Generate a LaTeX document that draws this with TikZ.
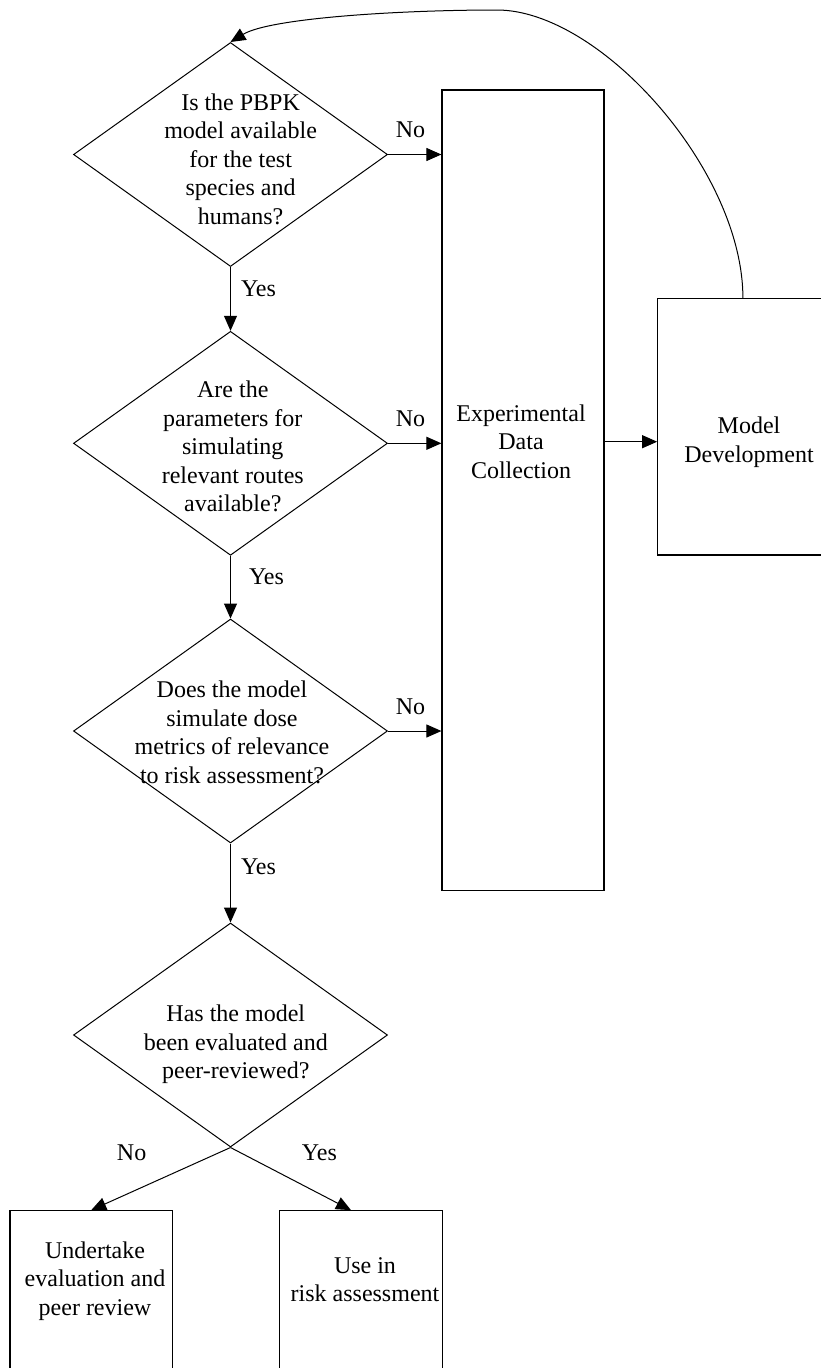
\documentclass[tikz,border=0pt]{standalone}
\usepackage{fontspec}
\setmainfont{Liberation Serif}
\usetikzlibrary{arrows.meta, shapes.geometric}

\begin{document}
\begin{tikzpicture}[x=1pt, y=-1pt, >={Triangle[length=15pt, width=13pt]},
  decision/.style={draw, diamond, line width=1pt, minimum width=314pt, minimum height=224pt, inner sep=0pt},
  block/.style={draw, rectangle, line width=1.2pt, inner sep=0pt},
  txt/.style={align=center, inner sep=0pt, font=\fontsize{24}{28.5}\selectfont},
  lbl/.style={inner sep=0pt, font=\fontsize{24}{28.5}\selectfont},
  line/.style={->, line width=1pt}]
  \useasboundingbox (0,0) rectangle (820,1368);
  % Decisions
  \node[decision] (d1) at (230.5,154.5) {};
  \node[decision] (d2) at (230.5,443.3) {};
  \node[decision] (d3) at (230.5,731) {};
  \node[decision] (d4) at (230.5,1035) {};
  \node[txt] (d1txt) at (240.6,159) {Is the PBPK\\model available\\for the test\\species and\\humans?};
  \node[txt] (d2txt) at (232.8,446.8) {Are the\\parameters for\\simulating\\relevant routes\\available?};
  \node[txt] (d3txt) at (232,732.3) {Does the model\\simulate dose\\metrics of relevance\\to risk assessment?};
  \node[txt] (d4txt) at (235.8,1044.7) {Has the model\\been evaluated and\\peer-reviewed?};
  % Boxes
  \node[block, minimum width=162pt, minimum height=800.7pt] (edc) at (523,490.4) {};
  \node[block, minimum width=164.3pt, minimum height=256.3pt] (md) at (739.9,426.9) {};
  \node[block, minimum width=162.3pt, minimum height=161.3pt] (und) at (91.2,1291.4) {};
  \node[block, minimum width=163.4pt, minimum height=161.3pt] (use) at (361,1291.4) {};
  \node[txt] (edctxt) at (521,441.7) {Experimental\\Data\\Collection};
  \node[txt] (mdtxt) at (749,442.3) {Model\\Development};
  \node[txt] (undtxt) at (95,1281) {Undertake\\evaluation and\\peer review};
  \node[txt] (usetxt) at (365,1279.8) {Use in\\risk assessment};
  % Yes branches
  \draw[line] (d1.south) -- node[lbl, pos=0.34, right=10pt] (yes1) {Yes} (d2.north);
  \draw[line] (d2.south) -- node[lbl, pos=0.34, right=18pt] (yes2) {Yes} (d3.north);
  \draw[line] (d3.south) -- node[lbl, pos=0.29, right=10pt] (yes3) {Yes} (d4.north);
  % No branches
  \draw[line] (d1.east) -- node[lbl, pos=0.42, above=16pt] (no1) {No} (d1.east -| edc.west);
  \draw[line] (d2.east) -- node[lbl, pos=0.42, above=16pt] (no2) {No} (d2.east -| edc.west);
  \draw[line] (d3.east) -- node[lbl, pos=0.42, above=16pt] (no3) {No} (d3.east -| edc.west);
  \draw[line] (edc.east |- edctxt) -- (md.west |- edctxt);
  % Loop back to the start
  \coordinate (looptop) at (497,10);
  \draw[line] ([xshift=3pt]md.north) .. controls (743,170) and (600,10) .. (looptop)
    .. controls (400,10) and (270,18) .. (d1.north);
  % Last decision
  \draw[line] (d4.south) -- node[lbl, pos=0.71, above=31pt] (no4) {No} (und.north);
  \draw[line] (d4.south) -- node[lbl, pos=0.738, above=33pt] (yes4) {Yes} ([xshift=-10pt]use.north);
\end{tikzpicture}
\end{document}
